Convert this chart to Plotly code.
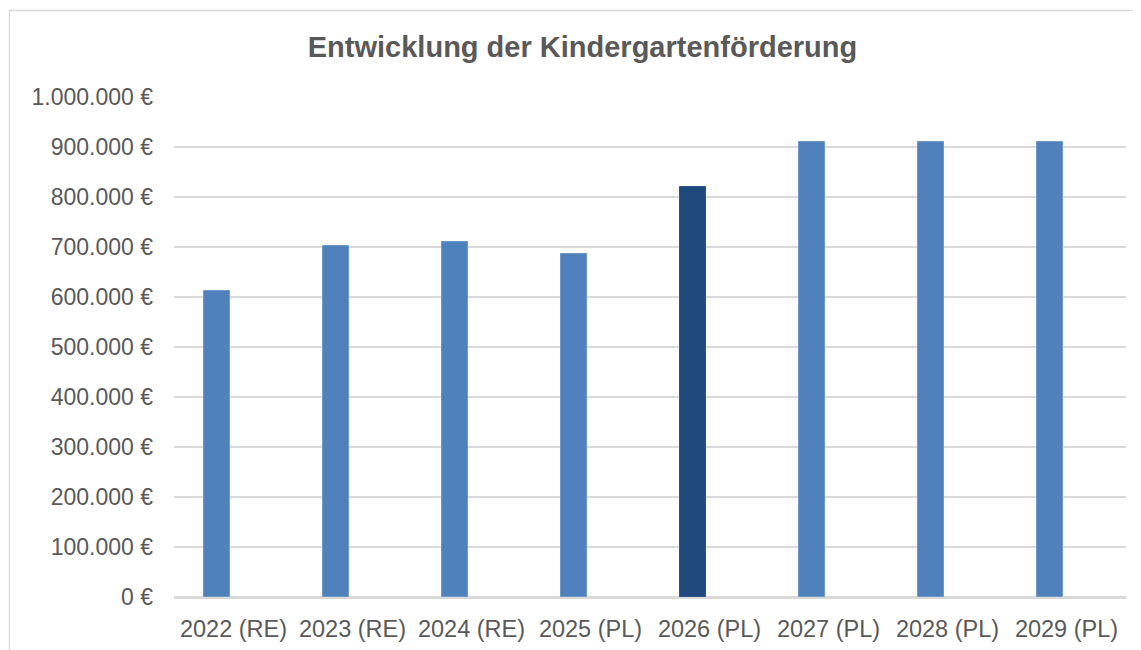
import plotly.graph_objects as go

categories = ["2022 (RE)", "2023 (RE)", "2024 (RE)", "2025 (PL)", "2026 (PL)",
              "2027 (PL)", "2028 (PL)", "2029 (PL)"]
values = [612000, 703000, 711000, 687000, 821000, 911000, 911000, 911000]
bar_colors = ["#4F81BD", "#4F81BD", "#4F81BD", "#4F81BD", "#1F497D",
              "#4F81BD", "#4F81BD", "#4F81BD"]
line_colors = ["#6F97CA", "#6F97CA", "#6F97CA", "#6F97CA", "#2B5589",
               "#6F97CA", "#6F97CA", "#6F97CA"]
title_text = "Entwicklung der Kindergartenförderung"

FONT = "Liberation Sans, Arial, sans-serif"
TXT = "#595959"
GRID = "#D9D9D9"

W, H = 1141, 650
L, R, T, B = 166, 23, 89, 61
PW = W - L - R
PH = H - T - B

fig = go.Figure()
fig.add_trace(go.Bar(
    x=categories, y=values,
    width=0.22, offset=-0.252,
    marker=dict(color=bar_colors, line=dict(color=line_colors, width=1)),
    hoverinfo="x+y",
))

fig.update_layout(
    width=W, height=H,
    margin=dict(l=L, r=R, t=T, b=B),
    paper_bgcolor="white", plot_bgcolor="white",
    separators=",.",
    showlegend=False,
    bargap=0,
    title=dict(text="<b>" + title_text + "</b>", x=574.5 / W, xref="container", xanchor="center",
               y=1 - 39 / H, yref="container", yanchor="middle",
               font=dict(family=FONT, size=29, color=TXT)),
    font=dict(family=FONT, color=TXT),
    xaxis=dict(
        type="category",
        showgrid=False, showline=True, linecolor=GRID, linewidth=1.6,
        ticks="", tickfont=dict(family=FONT, size=23.5, color=TXT),
        ticklabelstandoff=10,
        fixedrange=True,
    ),
    yaxis=dict(
        range=[0, 1000000], dtick=100000, tickformat=",d", ticksuffix=" €",
        showgrid=True, gridcolor=GRID, gridwidth=1.6,
        zeroline=True, zerolinecolor=GRID, zerolinewidth=1.6,
        showline=False, ticks="",
        tickfont=dict(family=FONT, size=23, color=TXT),
        ticklabelstandoff=20,
        fixedrange=True,
    ),
    shapes=[dict(type="rect", xref="paper", yref="paper",
                 x0=(1.5 - L) / PW, x1=(W + 20 - L) / PW,
                 y0=-0.3, y1=(H - B - 2.5) / PH,
                 line=dict(color=GRID, width=1.3), fillcolor="rgba(0,0,0,0)",
                 layer="below")],
)

fig.write_html("out.html")
